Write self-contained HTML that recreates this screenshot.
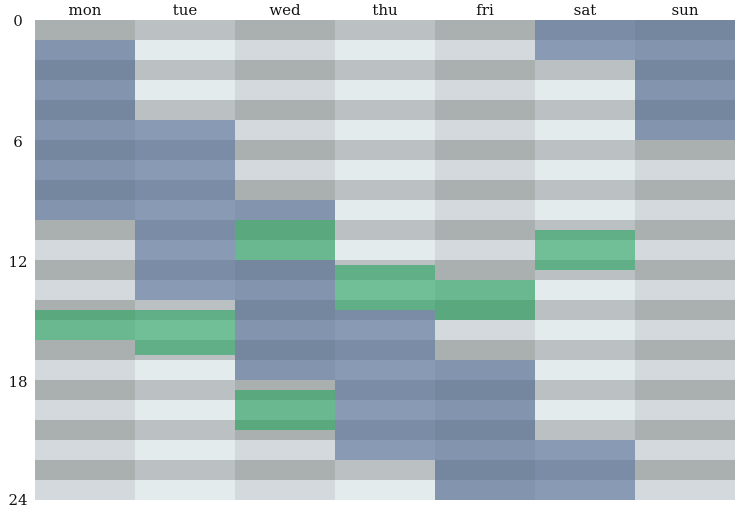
<!DOCTYPE html>
<html><head><meta charset="utf-8"><style>
html,body{margin:0;padding:0;background:#fff;width:735px;height:510px;overflow:hidden}
svg{display:block}
text{font-family:"DejaVu Serif","Liberation Serif",serif;font-size:15px;fill:#111}
</style></head><body>
<svg id="s" width="735" height="510" xmlns="http://www.w3.org/2000/svg">
<g id="g"></g>
<text x="85" y="15" text-anchor="middle">mon</text>
<text x="185" y="15" text-anchor="middle">tue</text>
<text x="285" y="15" text-anchor="middle">wed</text>
<text x="385" y="15" text-anchor="middle">thu</text>
<text x="485" y="15" text-anchor="middle">fri</text>
<text x="585" y="15" text-anchor="middle">sat</text>
<text x="685" y="15" text-anchor="middle">sun</text>
<text x="18" y="26" text-anchor="middle">0</text>
<text x="18" y="147" text-anchor="middle">6</text>
<text x="18" y="267" text-anchor="middle">12</text>
<text x="18" y="387" text-anchor="middle">18</text>
<text x="18" y="505" text-anchor="middle">24</text>
</svg>
<script>
var g=document.getElementById('g'),ns='http://www.w3.org/2000/svg';
function r(x,y,w,h,f,o){var e=document.createElementNS(ns,'rect');e.setAttribute('x',x);e.setAttribute('y',y);e.setAttribute('width',w);e.setAttribute('height',h);e.setAttribute('fill',f);if(o)e.setAttribute('fill-opacity',o);g.appendChild(e);}
for(var c=0;c<7;c++){var A=(c%2==0);for(var h=0;h<24;h++){var d=(h%2==0);r(35+c*100,20+h*20,100,20,A?(d?'#aab0b0':'#d3d9dc'):(d?'#bbc0c3':'#e4ebed'));}}
var B='rgb(90,112,150)',G='rgb(39,163,95)';
var blocks=[[0,1,10,B],[0,14.5,16,G],[1,5,14,B],[1,14.5,16.75,G],[2,9,10,B],[2,10,12,G],[2,12,18,B],[2,18.5,20.5,G],[3,12.25,14.5,G],[3,14.5,22,B],[4,13,15,G],[4,17,24,B],[5,0,2,B],[5,10.5,12.5,G],[5,21,24,B],[6,0,6,B]];
blocks.forEach(function(b){r(35+b[0]*100,20+b[1]*20,100,(b[2]-b[1])*20,b[3],b[3]==B?0.66:0.61);});
</script>
</body></html>
